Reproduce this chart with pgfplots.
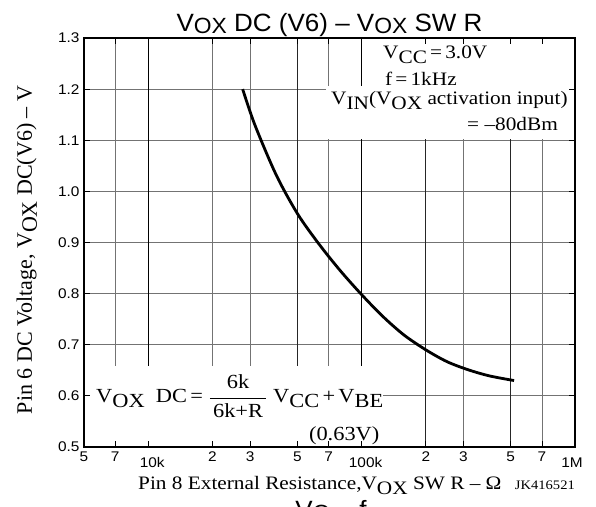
\documentclass[border=0pt]{standalone}
\usepackage{pgfplots}
\pgfplotsset{compat=1.18}
\usepackage{fontspec}
\setmainfont{Liberation Serif}[FakeStretch=1.12]
\setsansfont{Liberation Sans}[FakeStretch=1.1]
\newfontfamily\titlefont{Liberation Sans}[FakeStretch=1.04]
\newfontfamily\yfont{Liberation Serif}
\newcommand{\sub}[1]{\raisebox{-5pt}{#1}}
\newcommand{\tsub}[1]{\raisebox{-2.5pt}{\fontsize{22}{22}\selectfont #1}}
\begin{document}
\begin{tikzpicture}
\begin{axis}[
  at={(0,0)}, anchor=south west,
  scale only axis, width=491pt, height=409pt,
  xmode=log, xmin=5000, xmax=1000000, ymin=0.5, ymax=1.3,
  clip=false,
  axis on top,
  axis line style={line width=1.4pt},
  major tick style={black, line width=0.8pt},
  major tick length=6pt, tick align=inside,
  minor x tick num=0, xminorticks=false, yminorticks=false,
  xtick={5000,7000,20000,30000,50000,70000,200000,300000,500000,700000},
  xticklabels={5,7,2,3,5,7,2,3,5,7},
  extra x ticks={10000,100000,1000000},
  extra x tick labels={\hspace*{8pt}10k,\hspace*{8pt}100k,1M\hspace*{6pt}},
  extra x tick style={tick label style={yshift=-6pt}},
  ytick={0.5,0.6,0.7,0.8,0.9,1.0,1.1,1.2,1.3},
  yticklabels={0.5,0.6,0.7,0.8,0.9,1.0,1.1,1.2,1.3},
  tick label style={font=\fontsize{14}{14}\sffamily},
  xticklabel style={yshift=-1pt},
  yticklabel style={xshift=-1pt},
]
% grid
\pgfplotsinvokeforeach{0.6,0.7,0.8,0.9,1.0,1.1,1.2}{\draw[black!55, line width=0.9pt] (axis cs:5000,#1) -- (axis cs:1000000,#1);}
\pgfplotsinvokeforeach{7000,20000,30000,70000,300000,700000}{\draw[black!55, line width=0.9pt] (axis cs:#1,0.5) -- (axis cs:#1,1.3);}
\pgfplotsinvokeforeach{50000,200000,500000}{\draw[black!85, line width=0.9pt] (axis cs:#1,0.5) -- (axis cs:#1,1.3);}
\pgfplotsinvokeforeach{10000,100000}{\draw[black, line width=1.1pt] (axis cs:#1,0.5) -- (axis cs:#1,1.3);}
% white boxes
\fill[white] (rel axis cs:0.5743,0.7531) rectangle (rel axis cs:1,0.986);
\fill[white] (rel axis cs:0.4929,0.7531) rectangle (rel axis cs:0.58,0.8826);
\fill[white] (rel axis cs:0.004,0) rectangle (rel axis cs:0.609,0.198);
% curve
\addplot[black, line width=2.8pt, smooth, tension=0.5] coordinates {
(27700,1.200) (31600,1.130) (39800,1.032) (50100,0.956) (63100,0.897)
(79400,0.845) (100000,0.798) (126000,0.755) (158000,0.719) (200000,0.690)
(251000,0.667) (316000,0.651) (398000,0.639) (518000,0.630)};
% annotations
\node[anchor=base west, inner sep=0, font=\fontsize{19}{19}\selectfont] at (rel axis cs:0.609,0.9487) {V\sub{CC}\,=\,3.0V};
\node[anchor=base west, inner sep=0, font=\fontsize{19}{19}\selectfont] at (rel axis cs:0.613,0.885) {f\,=\,1kHz};
\node[anchor=base west, inner sep=0, font=\fontsize{19}{19}\selectfont] at (rel axis cs:0.503,0.8386) {V\sub{IN}(V\sub{OX} activation input)};
\node[anchor=base east, inner sep=0, font=\fontsize{19}{19}\selectfont] at (rel axis cs:0.9654,0.775) {=\;--80dBm};
\node[anchor=base west, inner sep=0, font=\fontsize{20}{20}\selectfont] at (rel axis cs:0.0244,0.1076) {V\sub{OX}\ \ DC\,=\;$\displaystyle\frac{\mbox{\,6k\,}}{\mbox{\,6k+R\,}}$\;V\sub{CC}\,+\,V\sub{BE}};
\node[anchor=base west, inner sep=0, font=\fontsize{20}{20}\selectfont] at (rel axis cs:0.458,0.017) {(0.63V)};
% title
\node[anchor=base, inner sep=0, font=\fontsize{25}{25}\titlefont] at (rel axis cs:0.5,1.017) {V\tsub{OX} DC (V6) – V\tsub{OX} SW R};
% x label
\node[anchor=base west, inner sep=0, font=\fontsize{19}{19}\selectfont] at (rel axis cs:0.11,-0.105) {Pin 8 External Resistance,V\sub{OX} SW R -- Ω};
\node[anchor=base east, inner sep=0, font=\fontsize{13}{13}\selectfont] at (rel axis cs:1,-0.105) {JK416521};
% y label
\node[anchor=base, rotate=90, inner sep=0, font=\fontsize{22}{22}\yfont] at (rel axis cs:-0.106,0.482) {Pin 6 DC Voltage, V\sub{OX} DC(V6) – V};
% cropped next title
\node[anchor=north west, inner sep=0, font=\fontsize{25}{25}\titlefont] at (rel axis cs:0.43,-0.13) {V\tsub{O} \ \ \ f};
\end{axis}
\pgfresetboundingbox
\useasboundingbox (-84pt,-59pt) rectangle (512pt,447pt);
\end{tikzpicture}
\end{document}
